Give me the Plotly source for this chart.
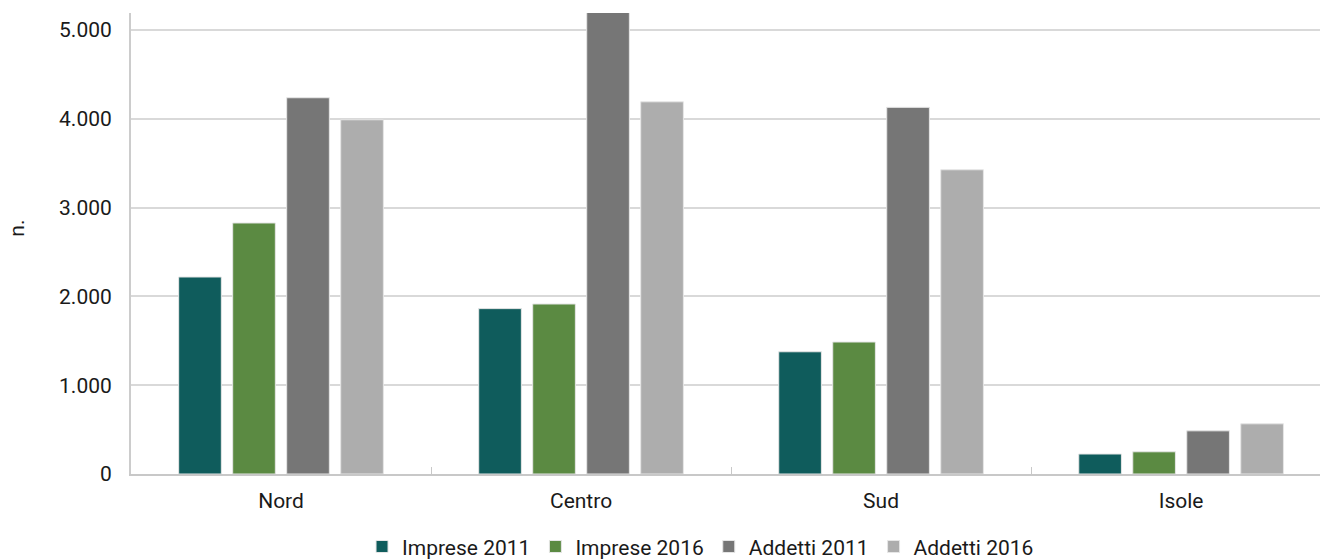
import plotly.graph_objects as go

# categories and series
regions = ['Nord', 'Centro', 'Sud', 'Isole']
imprese_2011 = [2218, 1862, 1376, 225]
imprese_2016 = [2826, 1914, 1486, 250]
addetti_2011 = [4236, 5260, 4128, 486]
addetti_2016 = [3988, 4190, 3425, 565]

series = [
    ('Imprese 2011', imprese_2011, '#0f5c5c'),
    ('Imprese 2016', imprese_2016, '#5b8a42'),
    ('Addetti 2011', addetti_2011, '#767676'),
    ('Addetti 2016', addetti_2016, '#adadad'),
]

fig = go.Figure()
for name, vals, color in series:
    fig.add_trace(go.Bar(x=regions, y=vals, name=name,
                         marker=dict(color=color, line=dict(color='#e6e6e6', width=1))))

fig.update_layout(
    width=1320, height=560,
    margin=dict(l=131, r=0, t=13, b=86, autoexpand=False),
    paper_bgcolor='white', plot_bgcolor='white',
    font=dict(family='Roboto', size=21, color='#1a1a1a'),
    separators=',.',
    barmode='group', bargap=0.28, bargroupgap=0.21,
    showlegend=True,
    legend=dict(orientation='h', x=0.479, xanchor='center',
                y=-0.158, yanchor='middle', font=dict(size=21),
                itemwidth=30, tracegroupgap=0),
)
fig.add_annotation(text='n.', textangle=-90, xref='paper', yref='paper',
                   x=-0.096, y=0.534, xanchor='center', yanchor='middle',
                   showarrow=False, font=dict(size=21))
fig.update_xaxes(range=[-0.5, 3.463], showline=True, linecolor='#c8c8c8', linewidth=2,
                 ticks='inside', tickson='boundaries', ticklen=7, tickcolor='#c8c8c8',
                 ticklabelstandoff=7, showgrid=False, automargin=False)
fig.update_yaxes(range=[0, 5190], dtick=1000, tickformat=',d', showline=True,
                 linecolor='#cccccc', linewidth=2, gridcolor='#d9d9d9', gridwidth=1.5,
                 ticklabelstandoff=13, zeroline=False, automargin=False)

# drop the default page margin so the figure fills the window
fig.write_html('out.html', config={'displayModeBar': False},
               post_script="document.body.style.margin='0';document.body.style.overflow='hidden';")
